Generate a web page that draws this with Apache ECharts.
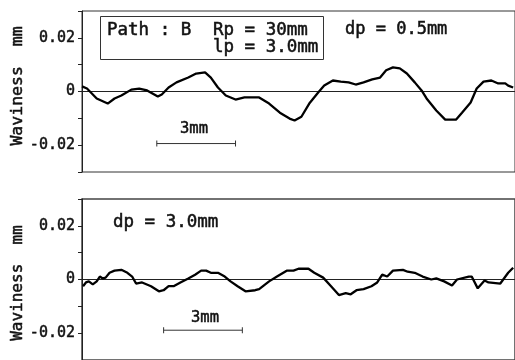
<!DOCTYPE html>
<html><head><meta charset="utf-8">
<script src="https://cdn.jsdelivr.net/npm/echarts@6/dist/echarts.min.js"></script>
<style>html,body{margin:0;padding:0;background:#fff}#c{width:515px;height:360px}</style>
</head><body><div id="c"></div>
<script>
// x in mm along the path, y = waviness in mm
const topWave = [[0,0.0019],[0.19,0.0011],[0.56,-0.0026],[0.98,-0.0045],[1.24,-0.0026],[1.5,-0.0015],[1.88,0.0007],[2.18,0.0011],[2.48,0.0004],[2.89,-0.0019],[3.04,-0.0011],[3.3,0.0015],[3.6,0.0034],[4.05,0.0052],[4.35,0.0067],[4.69,0.0071],[4.91,0.0052],[5.18,0.0015],[5.48,-0.0015],[5.85,-0.003],[6.19,-0.0022],[6.56,-0.0022],[6.75,-0.0022],[7.13,-0.0045],[7.54,-0.0079],[7.91,-0.0101],[8.1,-0.0108],[8.36,-0.0094],[8.66,-0.0045],[9.0,-0.0004],[9.23,0.0022],[9.56,0.0041],[9.86,0.0037],[10.16,0.0034],[10.43,0.0026],[10.73,0.0034],[11.06,0.0045],[11.36,0.0052],[11.59,0.0079],[11.85,0.009],[12.11,0.0086],[12.38,0.0067],[12.68,0.0034],[12.94,0.0004],[13.13,-0.0026],[13.5,-0.0071],[13.84,-0.0105],[14.25,-0.0105],[14.48,-0.0079],[14.81,-0.0041],[15.04,0.0011],[15.3,0.0037],[15.6,0.0041],[15.86,0.003],[16.13,0.003],[16.24,0.0022],[16.43,0.0015]];
const bottomWave = [[0.04,-0.0025],[0.15,-0.0011],[0.26,-0.0007],[0.41,-0.0018],[0.56,-0.0007],[0.68,0.0011],[0.79,0.0004],[0.9,0.0007],[1.05,0.0025],[1.24,0.0033],[1.5,0.0036],[1.73,0.0025],[1.91,0.0011],[2.06,-0.0015],[2.29,-0.0011],[2.63,-0.0025],[2.93,-0.0044],[3.11,-0.004],[3.3,-0.0025],[3.49,-0.0025],[3.75,-0.0011],[4.05,0.0004],[4.31,0.0018],[4.54,0.0033],[4.73,0.0033],[4.91,0.0025],[5.18,0.0025],[5.44,0.0011],[5.66,-0.0007],[5.93,-0.0025],[6.23,-0.0044],[6.6,-0.004],[6.75,-0.0036],[7.13,-0.0007],[7.43,0.0011],[7.8,0.0033],[8.06,0.0033],[8.25,0.004],[8.63,0.004],[8.85,0.0025],[9.19,0.0007],[9.49,-0.0025],[9.79,-0.0058],[10.05,-0.0051],[10.24,-0.0055],[10.46,-0.004],[10.73,-0.0036],[11.03,-0.0025],[11.25,-0.0011],[11.44,0.0018],[11.63,0.0011],[11.85,0.0033],[12.23,0.0036],[12.41,0.0029],[12.68,0.0025],[12.98,0.0011],[13.31,0],[13.5,0.0004],[13.8,-0.0007],[14.1,-0.0022],[14.29,0],[14.74,0.0011],[14.85,0.0011],[15.08,-0.0033],[15.34,-0.0004],[15.49,-0.0011],[15.94,-0.0015],[16.24,0.0025],[16.43,0.0044]];
const scaleBarTop = [[2.85,-0.0194],[5.85,-0.0194]];
const scaleBarBottom = [[3.11,-0.0189],[6.11,-0.0189]];
const yTickValues = [-0.02, 0, 0.02];
const yTickLabels = ['-0.02', '0', '0.02'];
const scaleText = '3mm';
const yName = 'Waviness  mm';
const topNote1 = 'Path : B';
const topNote2 = 'Rp = 30mm';
const topNote3 = 'lp = 3.0mm';
const topDp = 'dp = 0.5mm';
const bottomDp = 'dp = 3.0mm';

const FONT = 'DejaVu Sans Mono';
function yLabel(v){
  for (let i=0;i<yTickValues.length;i++){ if (Math.abs(v-yTickValues[i])<1e-9) return yTickLabels[i]; }
  return '';
}
function xAx(i){
  return {type:'value', gridIndex:i, min:0, max:16.5, axisLabel:{show:false}, axisTick:{show:false}, splitLine:{show:false},
    axisLine:{show:true, onZero:true, lineStyle:{color:'#222', width:1}}};
}
function yAx(i){
  return {type:'value', gridIndex:i, min:-0.03, max:0.03, interval:0.01, splitLine:{show:false},
    axisLine:{show:true, lineStyle:{color:'#222', width:1}},
    axisTick:{show:true, length:4, inside:false, lineStyle:{color:'#222'}},
    axisLabel:{formatter:yLabel, margin:7, color:'#111', fontFamily:FONT, fontSize:15, textBorderColor:'#111', textBorderWidth:0.5}};
}
function txt(x,y,t,size,align){
  return {type:'text', x:x, y:y, style:{text:t, fill:'#111', stroke:'#111', lineWidth:0.5, font:size+'px "'+FONT+'"', textAlign:align||'left', textVerticalAlign:'middle'}};
}
const chart = echarts.init(document.getElementById('c'), null, {renderer:'canvas'});
chart.setOption({
  animation:false,
  backgroundColor:'#fff',
  grid:[
    {left:82, top:11, width:440, height:161, show:true, borderColor:'#333', borderWidth:1},
    {left:82, top:199, width:440, height:165, show:true, borderColor:'#444', borderWidth:1.5}
  ],
  xAxis:[xAx(0), xAx(1)],
  yAxis:[yAx(0), yAx(1)],
  series:[
    {type:'line', xAxisIndex:0, yAxisIndex:0, data:topWave, showSymbol:false, lineStyle:{color:'#000', width:2.3}},
    {type:'line', xAxisIndex:1, yAxisIndex:1, data:bottomWave, showSymbol:false, lineStyle:{color:'#000', width:2.3}},
    {type:'line', xAxisIndex:0, yAxisIndex:0, data:scaleBarTop, symbol:'rect', symbolSize:[1,6], showSymbol:true,
      itemStyle:{color:'#333'}, lineStyle:{color:'#333', width:1}},
    {type:'line', xAxisIndex:1, yAxisIndex:1, data:scaleBarBottom, symbol:'rect', symbolSize:[1,6], showSymbol:true,
      itemStyle:{color:'#333'}, lineStyle:{color:'#333', width:1}}
  ],
  graphic:[
    {type:'rect', shape:{x:100.5, y:16.5, width:223, height:43}, style:{fill:null, stroke:'#333', lineWidth:1}},
    txt(107, 30, topNote1, 17.5),
    txt(213, 30, topNote2, 17.5),
    txt(213, 47, topNote3, 17.5),
    txt(345, 30, topDp, 17),
    txt(113, 222, bottomDp, 17.5),
    txt(194, 129, scaleText, 15.5, 'center'),
    txt(205, 318, scaleText, 15.5, 'center'),
    Object.assign(txt(18, 86, yName, 16.5, 'center'), {rotation:Math.PI/2}),
    Object.assign(txt(18, 283, yName, 16, 'center'), {rotation:Math.PI/2})
  ]
});
</script></body></html>
